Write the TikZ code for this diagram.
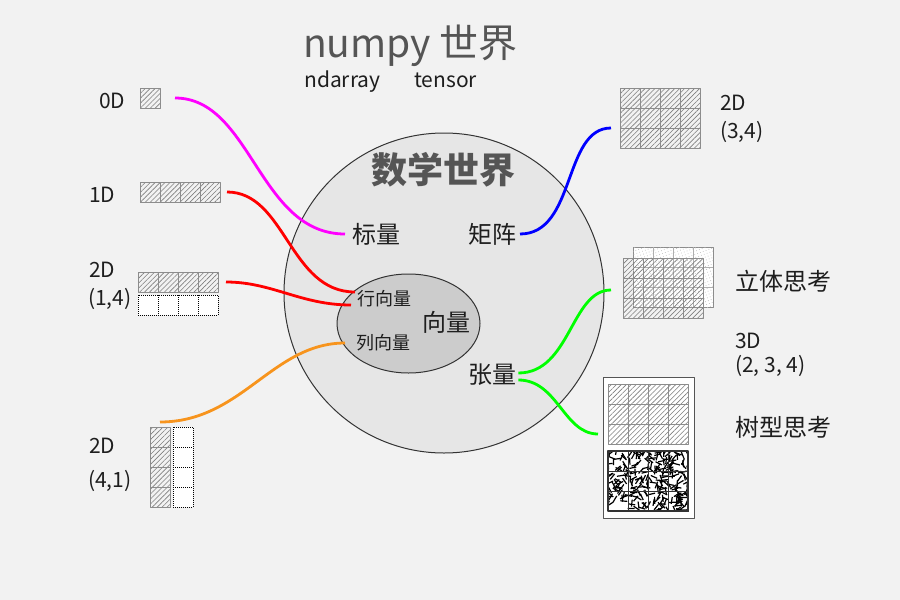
\documentclass[tikz,border=0pt]{standalone}
\usepackage{fontspec}
\setmainfont{Noto Sans CJK SC}
\usepackage{xcolor}
\usepackage{tikz}
\usetikzlibrary{patterns.meta,shapes.geometric}
\definecolor{npBack}{HTML}{F2F2F2}
\definecolor{npDisk}{HTML}{E6E6E6}
\definecolor{npEgg}{HTML}{CCCCCC}
\definecolor{npInk}{HTML}{1E1E1E}
\definecolor{npTitle}{HTML}{555555}
\definecolor{npCell}{HTML}{8C8C8C}
\definecolor{npEdge}{HTML}{333333}
\definecolor{npOrange}{HTML}{F7941D}
\definecolor{npMagenta}{HTML}{FF00FF}
\definecolor{npRed}{HTML}{FF0000}
\definecolor{npBlue}{HTML}{0000FF}
\definecolor{npGreen}{HTML}{00FF00}
\tikzset{
  np diagram/.style={font=\fontsize{21}{25}\selectfont, text=npInk,
    line join=round},
  np label/.style={inner sep=2pt, anchor=base west},
  np word/.style={font=\fontsize{24}{28}\selectfont, inner sep=2pt},
  np small/.style={font=\fontsize{18}{21}\selectfont, inner sep=2pt},
  np head/.style={font=\fontsize{36}{40}\selectfont\bfseries, text=npTitle},
  np block/.style={inner sep=0pt, outer sep=0pt, anchor=north west,
    draw=npCell, line width=1pt},
  np hatch/.style={np block,
    pattern={Lines[angle=45,distance=3.5pt,line width=0.6pt]},
    pattern color=npCell!90!black},
  np empty/.style={np block, draw=black, line width=0.8pt,
    dash pattern=on 1pt off 1pt, fill=white},
  np speck/.style={np block, fill=white,
    postaction={pattern={Dots[distance=3pt,radius=0.5pt,angle=20]},
      pattern color=npCell!55}},
  np rule/.style={draw=npCell, line width=1pt},
  np dotrule/.style={draw=black, line width=0.8pt, dash pattern=on 1pt off 1pt},
  np link/.style={line width=2.8pt}
}
% inner division lines of a block of 20pt cells
\newcommand{\celldiv}[4]{%
  \foreach \i in {1,...,#2}{\ifnum\i<#2\relax
    \draw[#4] (#1.north west) ++(\i*20,0) -- ++(0,#3*20);\fi}%
  \foreach \j in {1,...,#3}{\ifnum\j<#3\relax
    \draw[#4] (#1.north west) ++(0,\j*20) -- ++(#2*20,0);\fi}%
}

\begin{document}
\begin{tikzpicture}[np diagram, x=1pt, y=-1pt]
\fill[npBack] (0,0) rectangle (900,600);

% worlds
\node[circle, draw=npEdge, line width=1pt, fill=npDisk, minimum size=320pt,
  inner sep=0pt] (math) at (444,293) {};
\node[ellipse, draw=npEdge, line width=1pt, fill=npEgg, minimum width=143pt,
  minimum height=99pt, inner sep=0pt] (vec) at (408.5,323.5) {};
\node[np label, font=\fontsize{39}{44}\selectfont, text=npTitle] (numpy)
  at (301,57) {numpy 世界};
\node[np label] (ndarray) at (302,87) {ndarray};
\node[np label] (tensorname) at (412,87) {tensor};
\node[np head] (mathname) at (443,170) {数学世界};
\node[np word, anchor=west] (scalar) at (350,234) {标量};
\node[np word, anchor=east] (matrix) at (519,234) {矩阵};
\node[np word] (vector) at (446,322) {向量};
\node[np small, anchor=west] (rowvec) at (355,299) {行向量};
\node[np small, anchor=west] (colvec) at (354,343) {列向量};
\node[np word, anchor=west] (tensor) at (466,375) {张量};

% left side arrays
\node[np label] (zerolabel) at (97,108) {0D};
\node[np hatch, minimum width=20pt, minimum height=20pt] (zero) at (140,88) {};
\node[np label] (onelabel) at (87,202) {1D};
\node[np hatch, minimum width=80pt, minimum height=20pt] (one) at (140,182) {};
\celldiv{one}{4}{1}{np rule}
\node[np label] (rowlabel) at (87,277) {2D};
\node[np label] (rowshape) at (86,305) {(1,4)};
\node[np hatch, minimum width=80pt, minimum height=20pt] (row) at (138,272) {};
\celldiv{row}{4}{1}{np rule}
\node[np empty, minimum width=80pt, minimum height=20pt] (rowblank) at (138,295) {};
\celldiv{rowblank}{4}{1}{np dotrule}
\node[np label] (collabel) at (87,453) {2D};
\node[np label] (colshape) at (86,487) {(4,1)};
\node[np hatch, minimum width=20pt, minimum height=80pt] (col) at (150,427) {};
\celldiv{col}{1}{4}{np rule}
\node[np empty, minimum width=20pt, minimum height=80pt] (colblank) at (173,427) {};
\celldiv{colblank}{1}{4}{np dotrule}

% right side arrays
\node[np hatch, minimum width=80pt, minimum height=60pt] (two) at (620,88) {};
\celldiv{two}{4}{3}{np rule}
\node[np label] (twolabel) at (718,110) {2D};
\node[np label] (twoshape) at (718,138) {(3,4)};
\node[np speck, minimum width=80pt, minimum height=60pt] (back) at (633,247) {};
\celldiv{back}{4}{3}{draw=npCell!70, line width=1pt}
\node[np hatch, minimum width=80pt, minimum height=60pt] (front) at (623,258) {};
\celldiv{front}{4}{3}{np rule}
\node[np word, anchor=west] (solid) at (733,281) {立体思考};
\node[np label] (threelabel) at (733,348) {3D};
\node[np label] (threeshape) at (733,372) {(2, 3, 4)};
\node[np block, draw=npTitle, fill=white, minimum width=91pt,
  minimum height=141pt] (tree) at (603,377) {};
\node[np hatch, minimum width=80pt, minimum height=60pt] (treetop) at (608,384) {};
\celldiv{treetop}{4}{3}{np rule}
\node[np block, draw=npEdge, fill=white, minimum width=80pt,
  minimum height=60pt] (noise) at (608,451) {};
\begin{scope}
\clip (noise.north west) rectangle (noise.south east);
\pgfmathsetseed{4321}
\foreach \k in {1,...,300}{
  \pgfmathsetmacro\px{605+86*rnd}
  \pgfmathsetmacro\py{448+66*rnd}
  \pgfmathsetmacro\pa{180*rnd}
  \draw[line width=1.2pt] (\px,\py) -- ++(\pa:7);
}
\end{scope}
\celldiv{noise}{4}{3}{draw=npEdge, line width=1pt}
\draw[npEdge, line width=1.2pt] (noise.north west) rectangle (noise.south east);
\node[np word, anchor=west] (treename) at (733,427) {树型思考};

% links
\draw[np link, npMagenta, shorten <=15pt, shorten >=5pt]
  (zero.east) to[out=0,in=180] (scalar.west);
\draw[np link, npRed, shorten <=7pt]
  (one.east) to[out=0,in=180] ([yshift=7pt]rowvec.west);
\draw[np link, npRed, shorten <=8pt, shorten >=4pt]
  (row.east) to[out=0,in=180] ([yshift=-6pt]rowvec.west);
\draw[np link, npOrange, shorten >=9pt]
  ([yshift=5pt]col.north) to[out=0,in=180] (colvec.west);
\draw[np link, npBlue, shorten <=1pt, shorten >=9pt]
  (matrix.east) to[out=0,in=180] ([yshift=-10pt]two.west);
\draw[np link, npGreen, shorten >=12pt]
  ([yshift=2pt]tensor.east) to[out=0,in=180] ([yshift=-2pt]front.west);
\draw[np link, npGreen, shorten >=5pt]
  ([yshift=-5pt]tensor.east) to[out=0,in=180] ([yshift=13.5pt]tree.west);
\end{tikzpicture}
\end{document}
